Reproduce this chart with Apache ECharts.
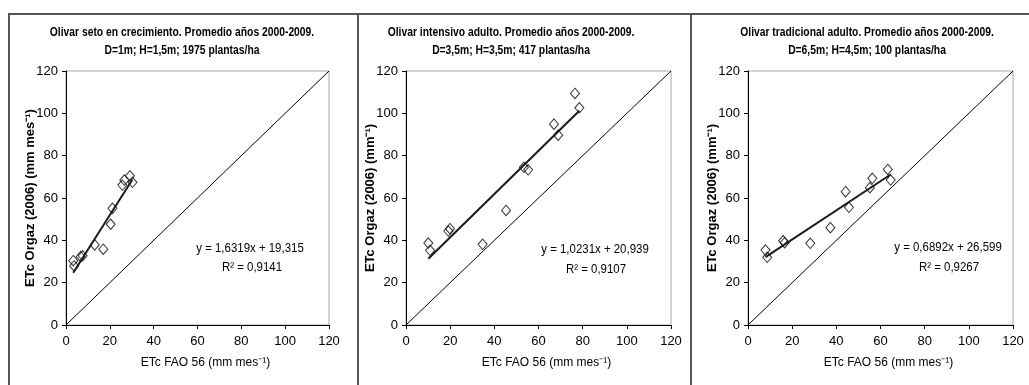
<!DOCTYPE html>
<html>
<head>
<meta charset="utf-8">
<script src="https://cdn.jsdelivr.net/npm/echarts@6/dist/echarts.min.js"></script>
<style>
html,body{margin:0;padding:0;background:#fff;}
#chart{width:1029px;height:385px;}
</style>
</head>
<body>
<div id="chart"></div>
<script>
// ---- data ----
const axisMin = 0, axisMax = 120, axisStep = 20;

const panelTitleLine1 = [
  'Olivar seto en crecimiento. Promedio años 2000-2009.',
  'Olivar intensivo adulto. Promedio años 2000-2009.',
  'Olivar tradicional adulto. Promedio años 2000-2009.'
];
const panelTitleLine2 = [
  'D=1m; H=1,5m; 1975 plantas/ha',
  'D=3,5m; H=3,5m; 417 plantas/ha',
  'D=6,5m; H=4,5m; 100 plantas/ha'
];
const yAxisNames = [
  'ETc Orgaz (2006) (mm mes⁻¹)',
  'ETc Orgaz (2006) (mm⁻¹)',
  'ETc Orgaz (2006) (mm⁻¹)'
];
const xAxisName = 'ETc FAO 56 (mm mes⁻¹)';

// Panel 1: olivar seto
const setoFAO   = [3.3, 3.7, 6.7, 7.6, 13.1, 17.0, 20.4, 21.2, 25.7, 26.6, 29.2, 30.3];
const setoOrgaz = [30.4, 27.9, 32.3, 32.7, 37.8, 35.8, 47.6, 55.1, 66.1, 68.5, 70.5, 67.4];
const setoFit   = { slope: 1.6319, intercept: 19.315, r2: 0.9141 };

// Panel 2: olivar intensivo
const intensivoFAO   = [10.1, 10.9, 19.2, 19.9, 34.7, 45.3, 53.4, 55.3, 67.0, 68.9, 76.5, 78.5];
const intensivoOrgaz = [38.7, 35.3, 44.4, 45.5, 38.1, 54.1, 74.5, 73.3, 94.9, 89.7, 109.4, 102.6];
const intensivoFit   = { slope: 1.0231, intercept: 20.939, r2: 0.9107 };

// Panel 3: olivar tradicional
const tradicionalFAO   = [7.9, 8.7, 15.9, 16.6, 28.2, 37.3, 44.2, 45.7, 55.2, 56.3, 63.3, 64.6];
const tradicionalOrgaz = [35.4, 32.0, 39.8, 38.9, 38.6, 46.0, 63.0, 55.6, 64.9, 69.3, 73.5, 68.5];
const tradicionalFit   = { slope: 0.6892, intercept: 26.599, r2: 0.9267 };

// ---- layout ----
const panels = [
  { x: setoFAO, y: setoOrgaz, fit: setoFit, grid: { left: 66, width: 263 }, titleX: 182, eq: [250, 248], r2: [252, 267] },
  { x: intensivoFAO, y: intensivoOrgaz, fit: intensivoFit, grid: { left: 406, width: 265 }, titleX: 511, eq: [595, 249], r2: [596, 269] },
  { x: tradicionalFAO, y: tradicionalOrgaz, fit: tradicionalFit, grid: { left: 748, width: 265 }, titleX: 867, eq: [948, 247], r2: [949, 267] }
];

const sans = "'Liberation Sans', Arial, sans-serif";
const fmt = (v, d) => v.toFixed(d).replace('.', ',');

const grids = [], xAxes = [], yAxes = [], series = [], graphics = [];

panels.forEach((p, i) => {
  grids.push({
    left: p.grid.left, width: p.grid.width, top: 71, height: 254,
    show: true, borderColor: '#a8a8a8', borderWidth: 1, backgroundColor: 'transparent',
    outerBoundsMode: 'none', containLabel: false
  });
  const axisCommon = {
    min: axisMin, max: axisMax, interval: axisStep,
    splitLine: { show: false },
    axisLine: { show: true, onZero: false, lineStyle: { color: '#000', width: 1 } },
    axisTick: { show: true, inside: false, length: 4, lineStyle: { color: '#000', width: 1 } },
    axisLabel: { color: '#000', fontSize: 13, fontFamily: sans, margin: 8 }
  };
  xAxes.push(Object.assign({}, axisCommon, {
    type: 'value', gridIndex: i,
    axisLabel: Object.assign({}, axisCommon.axisLabel, { margin: 10 }),
    name: xAxisName, nameLocation: 'middle', nameGap: 32, nameMoveOverlap: false,
    nameTextStyle: { color: '#000', fontSize: 12, fontFamily: sans, padding: [0, 0, 0, 16] }
  }));
  yAxes.push(Object.assign({}, axisCommon, {
    type: 'value', gridIndex: i,
    name: yAxisNames[i], nameLocation: 'middle', nameGap: 29, nameRotate: 90, nameMoveOverlap: false,
    nameTextStyle: { color: '#000', fontSize: 13, fontWeight: 'bold', fontFamily: sans }
  }));

  // 1:1 line
  series.push({
    type: 'line', xAxisIndex: i, yAxisIndex: i,
    data: [[axisMin, axisMin], [axisMax, axisMax]],
    symbol: 'none', lineStyle: { color: '#000', width: 1 }, z: 2, silent: true
  });
  // scatter
  series.push({
    type: 'scatter', xAxisIndex: i, yAxisIndex: i,
    data: p.x.map((v, k) => [v, p.y[k]]),
    symbol: 'diamond', symbolSize: [9, 10.5],
    itemStyle: { color: 'rgba(255,255,255,0)', borderColor: '#000', borderWidth: 1 },
    z: 3
  });
  // regression line
  const xmin = Math.min(...p.x), xmax = Math.max(...p.x);
  series.push({
    type: 'line', xAxisIndex: i, yAxisIndex: i,
    data: [[xmin, p.fit.slope * xmin + p.fit.intercept], [xmax, p.fit.slope * xmax + p.fit.intercept]],
    symbol: 'none', lineStyle: { color: '#1a1a1a', width: 2 }, z: 4, silent: true
  });

  // titles (condensed like the original narrow font)
  graphics.push({
    type: 'text', x: p.titleX, y: 33, scaleX: 0.86, z: 10,
    style: { text: panelTitleLine1[i], textAlign: 'center', textVerticalAlign: 'middle',
      fill: '#000', font: 'bold 12px ' + sans }
  });
  graphics.push({
    type: 'text', x: p.titleX, y: 51, scaleX: 0.86, z: 10,
    style: { text: panelTitleLine2[i], textAlign: 'center', textVerticalAlign: 'middle',
      fill: '#000', font: 'bold 12px ' + sans }
  });

  graphics.push({
    type: 'text', x: p.eq[0], y: p.eq[1], scaleX: 0.88, z: 10,
    style: { text: 'y = ' + fmt(p.fit.slope, 4) + 'x + ' + fmt(p.fit.intercept, 3),
      textAlign: 'center', textVerticalAlign: 'middle', fill: '#000', font: '13px ' + sans }
  });
  graphics.push({
    type: 'text', x: p.r2[0], y: p.r2[1], scaleX: 0.88, z: 10,
    style: { text: 'R² = ' + fmt(p.fit.r2, 4),
      textAlign: 'center', textVerticalAlign: 'middle', fill: '#000', font: '13px ' + sans }
  });
});

// frame lines
const frameColor = '#555';
graphics.push({ type: 'line', shape: { x1: 8, y1: 14, x2: 1029, y2: 14 }, style: { stroke: frameColor, lineWidth: 2 } });
[9, 358, 691].forEach(xx => {
  graphics.push({ type: 'line', shape: { x1: xx, y1: 13, x2: xx, y2: 385 }, style: { stroke: frameColor, lineWidth: 2 } });
});

const chart = echarts.init(document.getElementById('chart'), null, { renderer: 'canvas' });
chart.setOption({
  animation: false,
  backgroundColor: '#fff',
  grid: grids,
  xAxis: xAxes,
  yAxis: yAxes,
  series: series,
  graphic: graphics
});
</script>
</body>
</html>
